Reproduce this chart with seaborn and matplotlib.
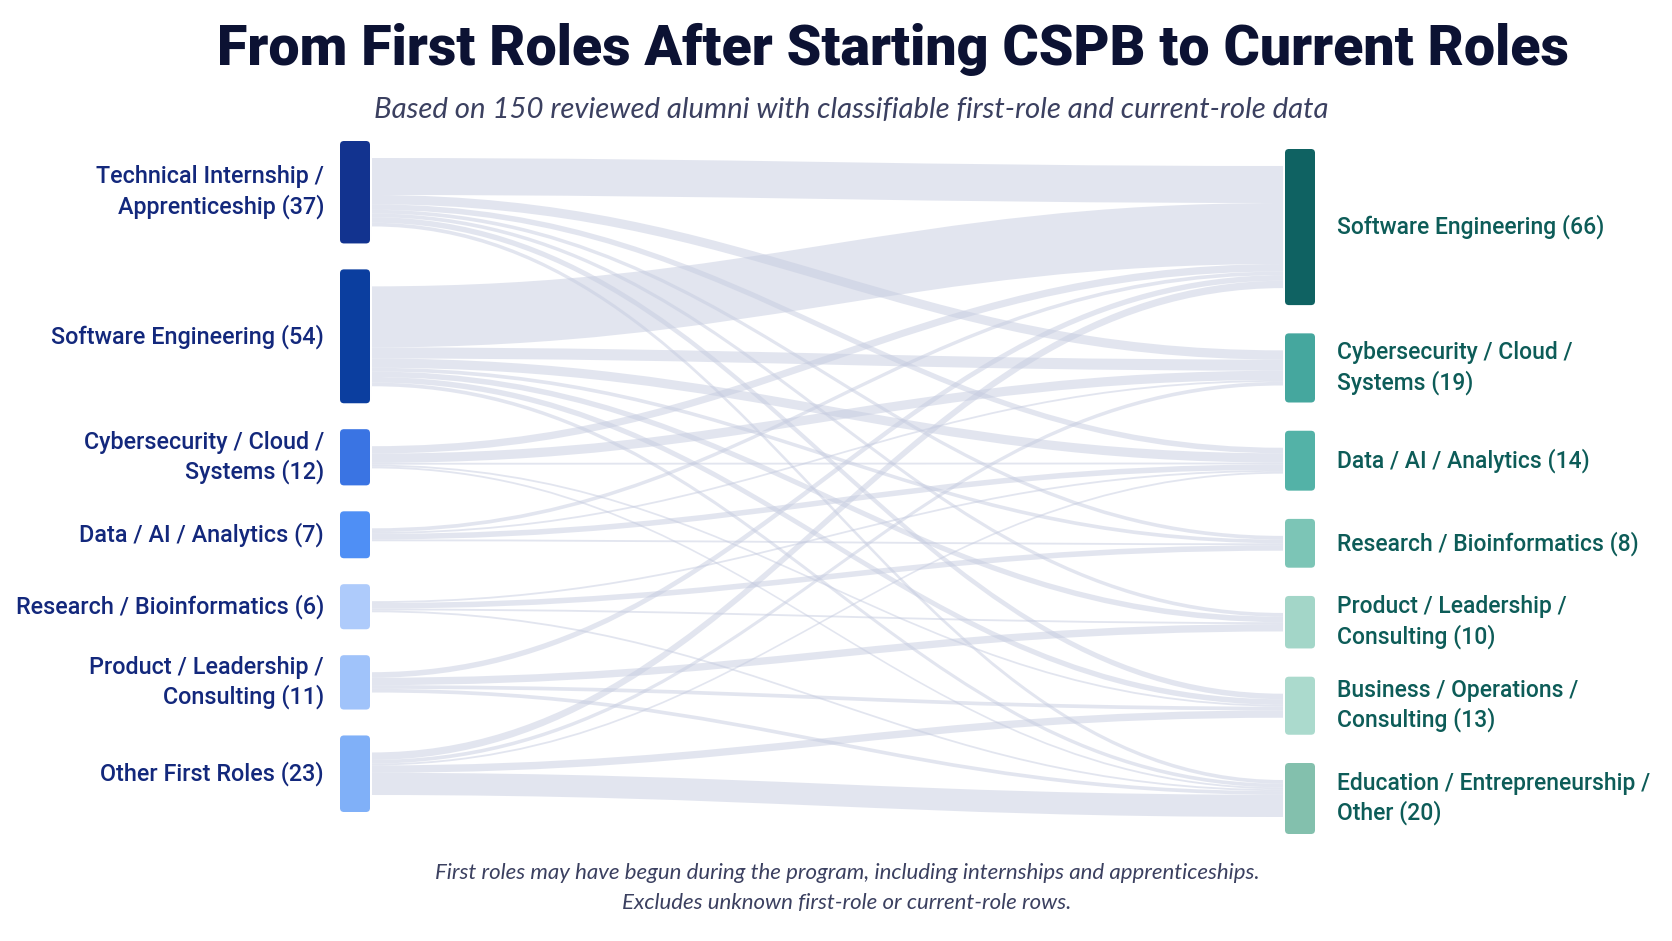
import matplotlib
matplotlib.use("Agg")
import matplotlib.pyplot as plt
from matplotlib.path import Path
from matplotlib.patches import PathPatch, FancyBboxPatch
import seaborn as sns

# ---- data -----------------------------------------------------------------
first_roles = [
    "Technical Internship /\nApprenticeship",
    "Software Engineering",
    "Cybersecurity / Cloud /\nSystems",
    "Data / AI / Analytics",
    "Research / Bioinformatics",
    "Product / Leadership /\nConsulting",
    "Other First Roles",
]
first_counts = [37, 54, 12, 7, 6, 11, 23]

current_roles = [
    "Software Engineering",
    "Cybersecurity / Cloud /\nSystems",
    "Data / AI / Analytics",
    "Research / Bioinformatics",
    "Product / Leadership /\nConsulting",
    "Business / Operations /\nConsulting",
    "Education / Entrepreneurship /\nOther",
]
current_counts = [66, 19, 14, 8, 10, 13, 20]

# rows = first role, columns = current role (estimated from the ribbons)
flows = [
    [20, 5, 3, 2, 2, 3, 2],
    [33, 6, 5, 2, 3, 3, 2],
    [4, 5, 1, 0, 0, 1, 1],
    [2, 1, 3, 1, 0, 0, 0],
    [0, 0, 1, 3, 1, 0, 1],
    [3, 0, 0, 0, 4, 2, 2],
    [4, 2, 1, 0, 0, 4, 12],
]

first_colors = ["#12338f", "#0b3e9f", "#3a74e3", "#4f8ff5", "#aecbfb", "#a0c3fa", "#80b0f8"]
current_colors = ["#0f6262", "#45a79e", "#53b2a7", "#7cc5b6", "#a3d6c8", "#abdacd", "#83c0ad"]

# ---- style ----------------------------------------------------------------
sns.set_theme(style="white")
plt.rcParams["font.family"] = ["Roboto", "DejaVu Sans"]

W, H = 1672, 941
fig = plt.figure(figsize=(W / 100, H / 100), dpi=100)
fig.patch.set_facecolor("white")
ax = fig.add_axes([0, 0, 1, 1])
ax.set_xlim(0, W)
ax.set_ylim(H, 0)
ax.axis("off")

# layout: node height = pad + scale * count, ribbons use scale only
node_pad = 34.0
unit = 1.85
node_w = 30
left_x, right_x = 340, 1285
left_span = (141, 812)
right_span = (149, 834)


def stack(counts, span):
    heights = [node_pad + unit * c for c in counts]
    gap = (span[1] - span[0] - sum(heights)) / (len(counts) - 1)
    tops, y = [], span[0]
    for h in heights:
        tops.append(y)
        y += h + gap
    return tops, heights


l_tops, l_h = stack(first_counts, left_span)
r_tops, r_h = stack(current_counts, right_span)

# ribbons sit as a centered block inside each node
l_cursor = [t + (h - unit * c) / 2 for t, h, c in zip(l_tops, l_h, first_counts)]
r_cursor = [t + (h - unit * c) / 2 for t, h, c in zip(r_tops, r_h, current_counts)]

x0 = left_x + node_w + 2
x1 = right_x - 2
xm0 = x0 + (x1 - x0) * 0.42
xm1 = x0 + (x1 - x0) * 0.58

src_pos = {}
for i, row in enumerate(flows):
    for j, v in enumerate(row):
        if v:
            src_pos[(i, j)] = l_cursor[i]
            l_cursor[i] += v * unit
dst_pos = {}
for j in range(len(current_counts)):
    for i in range(len(first_counts)):
        v = flows[i][j]
        if v:
            dst_pos[(i, j)] = r_cursor[j]
            r_cursor[j] += v * unit

for (i, j), ys in src_pos.items():
    w = flows[i][j] * unit
    yt = dst_pos[(i, j)]
    verts = [
        (x0, ys), (xm0, ys), (xm1, yt), (x1, yt),
        (x1, yt + w),
        (xm1, yt + w), (xm0, ys + w), (x0, ys + w),
        (x0, ys),
    ]
    codes = [Path.MOVETO, Path.CURVE4, Path.CURVE4, Path.CURVE4,
             Path.LINETO,
             Path.CURVE4, Path.CURVE4, Path.CURVE4,
             Path.CLOSEPOLY]
    ax.add_patch(PathPatch(Path(verts, codes), facecolor="#c6cce0",
                           edgecolor="none", alpha=0.5, zorder=1))

# nodes + labels
label_left = "#13287c"
label_right = "#0d5c58"
for name, n, t, h, c in zip(first_roles, first_counts, l_tops, l_h, first_colors):
    ax.add_patch(FancyBboxPatch((left_x, t), node_w, h,
                                boxstyle="round,pad=0,rounding_size=4",
                                facecolor=c, edgecolor="none", zorder=3))
    ax.text(left_x - 16, t + h / 2, f"{name} ({n})", ha="right", va="center",
            fontsize=16.8, color=label_left, fontweight="medium", linespacing=1.3)

for name, n, t, h, c in zip(current_roles, current_counts, r_tops, r_h, current_colors):
    ax.add_patch(FancyBboxPatch((right_x, t), node_w, h,
                                boxstyle="round,pad=0,rounding_size=4",
                                facecolor=c, edgecolor="none", zorder=3))
    ax.text(right_x + node_w + 22, t + h / 2, f"{name} ({n})", ha="left", va="center",
            fontsize=16.5, color=label_right, fontweight="medium", linespacing=1.3)

# titles
ax.text(893, 49, "From First Roles After Starting CSPB to Current Roles",
        ha="center", va="center", fontsize=40, fontweight="heavy", color="#0c1233")
ax.text(851, 110, "Based on 150 reviewed alumni with classifiable first-role and current-role data",
        ha="center", va="center", fontsize=21.2, style="italic",
        color="#3b4060", family=["Lato", "DejaVu Sans"])
ax.text(847, 888, "First roles may have begun during the program, including internships and apprenticeships.\n"
        "Excludes unknown first-role or current-role rows.",
        ha="center", va="center", fontsize=16, style="italic", color="#3b4060",
        linespacing=1.6, family=["Lato", "DejaVu Sans"])

fig.savefig("out.png", dpi=100, facecolor="white")
